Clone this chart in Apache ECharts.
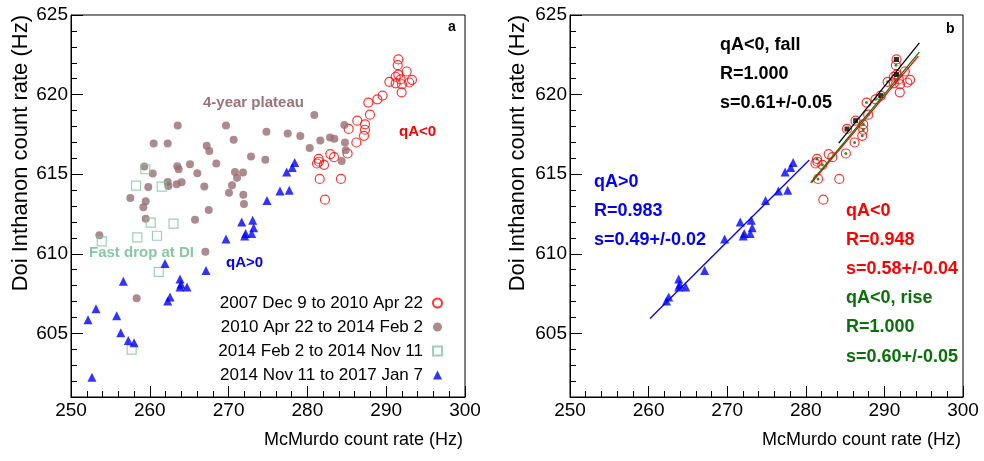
<!DOCTYPE html>
<html>
<head>
<meta charset="utf-8">
<script src="https://cdn.jsdelivr.net/npm/echarts@6/dist/echarts.min.js"></script>
<style>
  html, body { margin: 0; background: #fff; }
  #chart { width: 984px; height: 461px; }
</style>
</head>
<body>
<div id="chart"></div>
<script>
// legend labels (panel a)
const periodNames = [
  '2007 Dec 9 to 2010 Apr 22',
  '2010 Apr 22 to 2014 Feb 2',
  '2014 Feb 2 to 2014 Nov 11',
  '2014 Nov 11 to 2017 Jan 7'
];

// [McMurdo Hz, Doi Inthanon Hz]
const qaNegPoints = [
  [291.54, 622.21], [291.46, 621.85], [292.60, 621.45], [291.54, 621.26],
  [291.20, 621.12], [291.83, 620.95], [290.40, 620.80], [291.20, 620.71],
  [292.00, 620.65], [292.93, 620.76], [293.27, 620.93], [291.96, 620.14],
  [289.54, 619.94], [288.87, 619.70], [287.73, 619.50], [287.94, 618.74],
  [286.33, 618.36], [287.31, 618.13], [287.31, 617.79], [285.24, 617.84],
  [287.18, 617.41], [286.21, 616.99], [282.91, 616.26], [283.38, 616.07],
  [285.10, 616.30], [281.43, 615.96], [281.47, 615.78], [281.22, 615.67],
  [282.11, 615.59], [281.56, 614.70], [284.26, 614.70], [282.23, 613.40]
];

// indices into qaNegPoints used in the fall / rise fits (panel b)
const fallIndex = [0, 3, 12, 16, 19];
const riseIndex = [1, 6, 13, 14, 15, 17, 18, 20, 21, 24, 25, 28, 29];

const plateauPoints = [
  [263.54, 618.06], [269.67, 618.05], [274.80, 617.66], [260.49, 616.93],
  [262.27, 616.93], [270.64, 617.16], [267.22, 616.78], [267.55, 616.45],
  [272.84, 616.11], [274.66, 615.90], [265.10, 615.63], [268.44, 615.67],
  [259.30, 615.48], [263.49, 615.50], [263.67, 615.31], [260.37, 615.04],
  [266.03, 615.06], [270.81, 615.13], [271.83, 615.10], [271.07, 614.77],
  [262.27, 614.51], [262.35, 614.26], [263.41, 614.37], [264.04, 614.50],
  [259.81, 614.20], [266.92, 614.22], [270.43, 614.31], [270.05, 613.84],
  [271.87, 613.71], [257.53, 613.51], [259.48, 613.30], [259.18, 612.92],
  [271.95, 613.13], [267.47, 612.75], [259.48, 612.20], [265.74, 612.14],
  [253.60, 611.17], [267.05, 610.12], [258.33, 607.20], [280.88, 618.72],
  [277.50, 617.56], [279.10, 617.40], [281.64, 617.12], [282.87, 617.31],
  [283.42, 617.23], [284.69, 618.09], [284.77, 616.99], [280.29, 616.64],
  [284.86, 616.51], [284.35, 615.82]
];

const fastDropPoints = [
  [259.43, 615.31], [258.25, 614.28], [261.51, 614.22], [260.11, 611.95],
  [263.01, 611.89], [260.91, 611.13], [258.41, 611.03], [253.90, 610.78],
  [261.13, 608.86], [257.70, 603.98]
];

// qA>0 points used in the fit (both panels)
const qaPosFitPoints = [
  [278.39, 615.73], [278.08, 615.42], [277.37, 615.13], [277.70, 613.99],
  [276.52, 613.95], [274.87, 613.34], [273.06, 612.10], [271.66, 611.99],
  [273.18, 611.63], [272.93, 611.28], [272.17, 611.28], [272.04, 611.11],
  [269.67, 610.92], [267.13, 608.95], [263.83, 608.42], [263.96, 608.08],
  [263.83, 607.91], [264.72, 607.91], [262.56, 607.28], [262.27, 607.03]
];
// qA>0 points only in panel a
const qaPosOtherPoints = [
  [261.93, 609.39], [256.64, 608.27], [253.17, 606.55], [252.16, 605.86],
  [255.80, 606.11], [256.31, 605.04], [257.27, 604.55], [258.00, 604.41],
  [252.66, 602.24]
];

// fitted lines, endpoints [x, y]
const fitQaPos = [[260.18, 605.93], [280.44, 615.89]];
const fitFall = [[284.19, 616.95], [294.45, 623.25]];
const fitQaNeg = [[280.74, 614.47], [294.32, 622.42]];
const fitRise = [[280.61, 614.47], [294.45, 622.67]];

const FONT = 'Liberation Sans, Arial, Helvetica, sans-serif';
const BROWN = '#976d72';
const LIGHTGREEN = '#80c8a0';
const DARKGREEN = '#0a700a';

const makeXAxis = (gridIndex) => ({
  type: 'value', gridIndex, min: 250, max: 300, interval: 10,
  axisLine: { show: true, onZero: false, lineStyle: { color: '#000', width: 1 } },
  axisTick: { show: true, inside: true, length: 11, lineStyle: { color: '#000' } },
  minorTick: { show: true, splitNumber: 5, length: 6, lineStyle: { color: '#000' } },
  axisLabel: { color: '#000', fontSize: 19, fontFamily: FONT, margin: 4 },
  splitLine: { show: false }
});

// bottom edge is 601, so let ECharts pick the 5 Hz step itself
const makeYAxis = (gridIndex) => ({
  type: 'value', gridIndex, min: 601, max: 625, splitNumber: 5,
  axisLine: { show: true, onZero: false, lineStyle: { color: '#000', width: 1 } },
  axisTick: { show: true, inside: true, length: 12, lineStyle: { color: '#000' } },
  minorTick: { show: true, splitNumber: 5, length: 6, lineStyle: { color: '#000' } },
  axisLabel: {
    color: '#000', fontSize: 19, fontFamily: FONT, margin: 3, showMinLabel: false,
    formatter: (v) => (v % 5 === 0 ? String(v) : '')
  },
  splitLine: { show: false }
});

const gridBox = { show: true, borderColor: '#000', borderWidth: 1, backgroundColor: 'transparent' };

const fitLine = (data, color) => ({
  type: 'line', xAxisIndex: 1, yAxisIndex: 1, data, symbol: 'none', silent: true, z: 5,
  lineStyle: { color, width: 1.3 }
});

const textEl = (text, x, y, color, size, weight, extra) => Object.assign({
  type: 'text', x, y, silent: true,
  style: {
    text, fill: color, fontSize: size, fontFamily: FONT, fontWeight: weight,
    align: 'left', verticalAlign: 'middle'
  }
}, extra || {});

const annotations = [
  textEl('4-year plateau', 203, 103, '#9b7378', 15, 'bold'),
  textEl('qA<0', 399, 132, '#ff0000', 15, 'bold'),
  textEl('Fast drop at DI', 89, 253, '#88c9a3', 15, 'bold'),
  textEl('qA>0', 226, 263, '#0000ff', 15, 'bold'),
  textEl('a', 448, 27, '#000', 14, 'bold'),
  textEl('b', 946, 29, '#000', 14, 'bold'),
  textEl('qA<0, fall', 720, 45, '#000', 18, 'bold'),
  textEl('R=1.000', 720, 74, '#000', 18, 'bold'),
  textEl('s=0.61+/-0.05', 720, 103, '#000', 18, 'bold'),
  textEl('qA>0', 594, 182, '#0000ff', 18, 'bold'),
  textEl('R=0.983', 594, 211, '#0000ff', 18, 'bold'),
  textEl('s=0.49+/-0.02', 594, 240, '#0000ff', 18, 'bold'),
  textEl('qA<0', 846, 211, '#ff0000', 18, 'bold'),
  textEl('R=0.948', 846, 240, '#ff0000', 18, 'bold'),
  textEl('s=0.58+/-0.04', 846, 269, '#ff0000', 18, 'bold'),
  textEl('qA<0, rise', 846, 298, DARKGREEN, 18, 'bold'),
  textEl('R=1.000', 846, 327, DARKGREEN, 18, 'bold'),
  textEl('s=0.60+/-0.05', 846, 357, DARKGREEN, 18, 'bold')
];

const axisTitles = [
  textEl('Doi Inthanon count rate (Hz)', 21, 15, '#000', 22, 'normal', { rotation: Math.PI / 2 }),
  textEl('Doi Inthanon count rate (Hz)', 518, 15, '#000', 22, 'normal', { rotation: Math.PI / 2 }),
  textEl('McMurdo count rate (Hz)', 463, 440, '#000', 18, 'normal'),
  textEl('McMurdo count rate (Hz)', 961, 440, '#000', 18, 'normal')
];
axisTitles.forEach((t) => { t.style.align = 'right'; });

const option = {
  animation: false,
  backgroundColor: '#fff',
  textStyle: { fontFamily: FONT },
  grid: [
    Object.assign({ left: 71, top: 15, width: 394, height: 382 }, gridBox),
    Object.assign({ left: 570, top: 15, width: 393, height: 382 }, gridBox)
  ],
  xAxis: [makeXAxis(0), makeXAxis(1)],
  yAxis: [makeYAxis(0), makeYAxis(1)],
  legend: {
    data: periodNames, orient: 'vertical', right: 541, top: 293, align: 'right',
    itemWidth: 9, itemHeight: 9, itemGap: 4, padding: 0, selectedMode: false,
    textStyle: { fontSize: 17, fontFamily: FONT, color: '#000', lineHeight: 20, padding: [0, 5, 0, 0] }
  },
  graphic: annotations.concat(axisTitles),
  series: [
    {
      name: periodNames[0], type: 'scatter', xAxisIndex: 0, yAxisIndex: 0, data: qaNegPoints,
      symbol: 'circle', symbolSize: 9,
      itemStyle: { color: 'rgba(255,255,255,0)', borderColor: '#ff0000', borderWidth: 1.2 }
    },
    {
      name: periodNames[1], type: 'scatter', xAxisIndex: 0, yAxisIndex: 0, data: plateauPoints,
      symbol: 'circle', symbolSize: 8, itemStyle: { color: BROWN }
    },
    {
      name: periodNames[2], type: 'scatter', xAxisIndex: 0, yAxisIndex: 0, data: fastDropPoints,
      symbol: 'rect', symbolSize: 9,
      itemStyle: { color: 'rgba(255,255,255,0)', borderColor: LIGHTGREEN, borderWidth: 1.2 }
    },
    {
      name: periodNames[3], type: 'scatter', xAxisIndex: 0, yAxisIndex: 0,
      data: qaPosFitPoints.concat(qaPosOtherPoints),
      symbol: 'triangle', symbolSize: 9, itemStyle: { color: '#0000ff' }
    },
    // panel b
    {
      name: 'qA<0 (b)', type: 'scatter', xAxisIndex: 1, yAxisIndex: 1, data: qaNegPoints,
      symbol: 'circle', symbolSize: 9,
      itemStyle: { color: 'rgba(255,255,255,0)', borderColor: '#ff0000', borderWidth: 1.2 }
    },
    {
      name: 'fall (b)', type: 'scatter', xAxisIndex: 1, yAxisIndex: 1,
      data: fallIndex.map((i) => qaNegPoints[i]),
      symbol: 'rect', symbolSize: 5, itemStyle: { color: '#000' }
    },
    {
      name: 'rise (b)', type: 'scatter', xAxisIndex: 1, yAxisIndex: 1,
      data: riseIndex.map((i) => qaNegPoints[i]),
      symbol: 'circle', symbolSize: 3, itemStyle: { color: DARKGREEN }
    },
    {
      name: 'qA>0 (b)', type: 'scatter', xAxisIndex: 1, yAxisIndex: 1, data: qaPosFitPoints,
      symbol: 'triangle', symbolSize: 9, itemStyle: { color: '#0000ff' }
    },
    fitLine(fitQaPos, '#0000ff'),
    fitLine(fitFall, '#000'),
    fitLine(fitQaNeg, '#ff0000'),
    fitLine(fitRise, '#0a7a0a')
  ]
};

const chart = echarts.init(document.getElementById('chart'), null, { renderer: 'canvas' });
chart.setOption(option);
</script>
</body>
</html>
